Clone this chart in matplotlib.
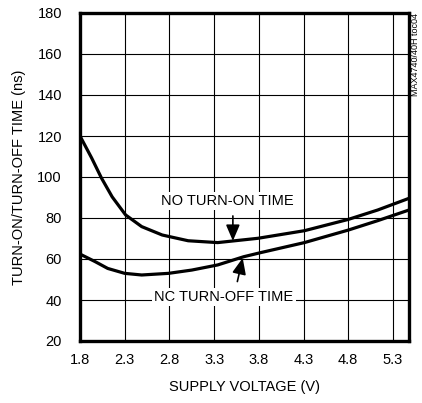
import matplotlib
matplotlib.use("Agg")
import matplotlib.pyplot as plt
from matplotlib import font_manager

# supply voltage (V) vs switching time (ns)
v_on = [1.80, 1.93, 2.04, 2.16, 2.31, 2.49, 2.72, 3.01, 3.34, 3.79, 4.31, 4.80, 5.13, 5.48]
t_on = [120.0, 109.3, 99.5, 90.3, 81.5, 75.8, 71.7, 68.9, 68.0, 70.1, 73.8, 79.3, 83.9, 89.6]

v_off = [1.80, 1.97, 2.11, 2.30, 2.49, 2.79, 3.05, 3.34, 3.63, 3.82, 4.31, 4.80, 5.13, 5.48]
t_off = [62.4, 58.7, 55.4, 53.0, 52.2, 53.0, 54.6, 57.1, 61.1, 63.1, 68.0, 74.1, 78.7, 83.9]

xticks = [1.8, 2.3, 2.8, 3.3, 3.8, 4.3, 4.8, 5.3]
yticks = [20, 40, 60, 80, 100, 120, 140, 160, 180]

names = {f.name for f in font_manager.fontManager.ttflist}
fam = "Liberation Sans Narrow" if "Liberation Sans Narrow" in names else "Liberation Sans"
plt.rcParams["font.family"] = [fam, "DejaVu Sans"]

fig = plt.figure(figsize=(4.22, 4.03), dpi=100)
ax = fig.add_axes([80 / 422, 1 - 341 / 403, 329 / 422, 328 / 403])

ax.plot(v_on, t_on, color="black", lw=2.3, solid_capstyle="butt", zorder=3)
ax.plot(v_off, t_off, color="black", lw=2.3, solid_capstyle="butt", zorder=3)

ax.set_xlim(1.8, 5.48)
ax.set_ylim(20, 180)
ax.set_xticks(xticks)
ax.set_xticklabels([f"{v:.1f}" for v in xticks])
ax.set_yticks(yticks)
ax.grid(True, color="black", lw=0.8)
ax.tick_params(length=0, labelsize=10.5)
ax.tick_params(axis="x", pad=9)
ax.tick_params(axis="y", pad=13)
for s in ax.spines.values():
    s.set_linewidth(2.4)

ax.set_xlabel("SUPPLY VOLTAGE (V)", fontsize=10.5, labelpad=9)
ax.set_ylabel("TURN-ON/TURN-OFF TIME (ns)", fontsize=10.5, labelpad=8)

box = dict(facecolor="white", edgecolor="none", pad=1.5)
arrow = dict(arrowstyle="-|>,head_length=0.7,head_width=0.3", color="black", lw=1.2,
             mutation_scale=14, shrinkA=0, shrinkB=0)
ax.text(3.45, 88.5, "NO TURN-ON TIME", ha="center", va="center", fontsize=10.5, bbox=box, zorder=4)
ax.annotate("", xy=(3.51, 68.8), xytext=(3.51, 81), arrowprops=arrow, zorder=4)
ax.text(3.41, 41.5, "NC TURN-OFF TIME", ha="center", va="center", fontsize=10.5, bbox=box, zorder=4)
ax.annotate("", xy=(3.62, 60.5), xytext=(3.56, 49), arrowprops=arrow, zorder=4)

fig.text(415 / 422, 1 - 13 / 403, "MAX4740/40H toc04", rotation=90, ha="center", va="top", fontsize=6.5)

fig.savefig("out.png", dpi=100)
